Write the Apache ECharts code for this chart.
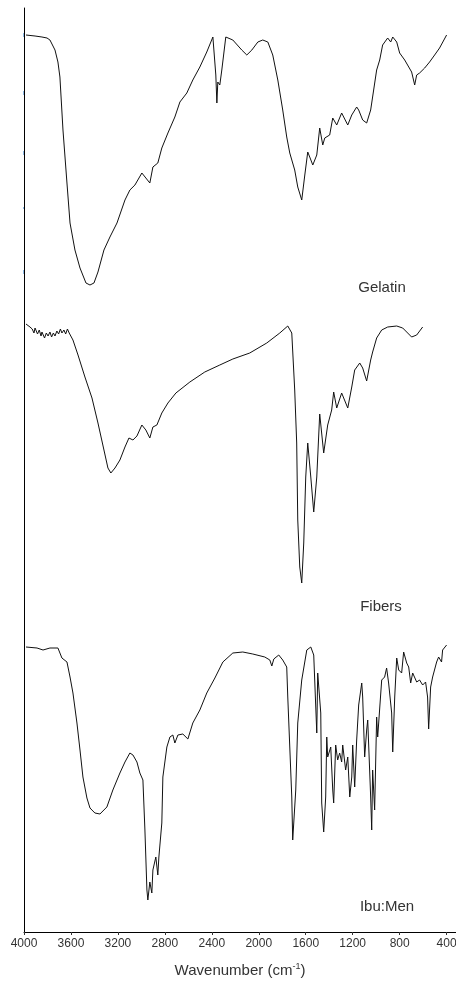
<!DOCTYPE html>
<html>
<head>
<meta charset="utf-8">
<script src="https://cdn.jsdelivr.net/npm/echarts@6/dist/echarts.min.js"></script>
<style>
html,body{margin:0;padding:0;background:#fff;}
#chart{width:456px;height:981px;}
</style>
</head>
<body>
<div id="chart"></div>
<script>
// X tick labels (wavenumber, cm-1)
const xTicks = [4000, 3600, 3200, 2800, 2400, 2000, 1600, 1200, 800, 400];

// Gelatin spectrum (wavenumber, offset transmittance a.u.)
const gelatinWn = [3983,3906,3847,3804,3779,3762,3736,3711,3694,3668,3634,3608,3566,3523,3472,3438,3404,3370,3319,3268,3208,3140,3098,3055,2996,2962,2928,2902,2860,2826,2774,2715,2672,2613,2562,2502,2443,2391,2366,2357,2349,2332,2315,2281,2221,2145,2102,2059,2008,1966,1923,1881,1838,1796,1762,1736,1694,1668,1634,1608,1583,1566,1540,1506,1481,1455,1438,1396,1370,1336,1294,1242,1208,1166,1149,1115,1081,1047,1030,996,970,945,902,876,859,825,800,757,698,672,655,630,587,545,502,460,400];
const gelatinT  = [897,896,895,894,892,890,882,870,855,802,749,709,682,664,649,647,649,660,682,695,709,732,742,747,759,754,749,765,769,784,799,815,830,839,852,865,880,895,857,829,850,847,862,895,892,882,877,882,890,892,890,877,852,822,795,779,762,745,732,757,780,775,767,777,804,787,794,797,814,807,819,807,817,825,822,812,809,822,824,862,872,887,894,890,895,890,879,872,860,847,857,859,864,870,877,884,897];

// Fibers spectrum
const fibersWn = [3983,3949,3930,3915,3906,3885,3870,3855,3847,3825,3810,3795,3779,3765,3750,3736,3720,3705,3690,3677,3660,3645,3630,3615,3608,3583,3540,3481,3421,3370,3319,3285,3260,3225,3183,3140,3106,3072,3038,2996,2962,2928,2902,2868,2826,2774,2706,2587,2460,2332,2221,2077,1932,1821,1753,1719,1694,1677,1668,1651,1634,1617,1600,1583,1557,1532,1506,1481,1447,1413,1379,1362,1336,1294,1242,1208,1183,1140,1115,1081,1047,1030,996,953,902,825,774,698,655,604];
const fibersT  = [608,605,603,599,604,598,602,596,600,594,599,596,600,595,599,596,601,598,603,599,602,598,603,599,599,592,577,555,534,509,482,464,459,464,472,485,494,492,496,507,502,494,505,507,519,529,539,550,560,567,573,579,589,599,606,599,542,489,412,365,349,389,455,489,455,420,455,518,479,507,522,540,524,539,524,545,562,569,564,551,572,580,594,602,605,606,604,595,597,605];

// Ibu:Men spectrum
const ibuMenWn = [3983,3889,3838,3779,3711,3677,3634,3608,3583,3549,3523,3498,3464,3438,3396,3353,3294,3243,3183,3140,3098,3072,3038,3013,2987,2970,2953,2945,2928,2911,2902,2877,2860,2851,2826,2817,2783,2757,2732,2715,2689,2647,2604,2562,2502,2443,2374,2306,2221,2136,2051,1949,1906,1889,1872,1830,1796,1762,1753,1736,1719,1711,1685,1668,1634,1591,1557,1532,1506,1498,1472,1464,1447,1430,1421,1413,1387,1370,1362,1345,1328,1311,1294,1285,1260,1242,1225,1208,1200,1183,1166,1149,1123,1115,1098,1081,1072,1047,1038,1030,1013,996,987,953,928,911,894,868,859,842,825,808,783,766,740,723,706,689,655,630,604,579,562,553,536,519,485,468,443,434,400];
const ibuMenT  = [285,284,282,284,284,274,270,255,239,209,182,155,134,124,119,118,125,142,159,170,179,177,170,159,152,102,42,32,50,39,62,75,57,75,109,155,185,195,197,189,197,198,193,209,222,239,254,270,279,280,278,275,272,266,273,277,272,265,235,185,135,92,142,209,252,282,285,277,199,259,219,129,100,135,195,175,185,142,129,187,172,179,170,187,162,175,135,155,187,145,192,227,249,235,175,202,212,135,102,162,122,215,195,252,255,264,249,219,180,235,274,262,259,280,269,265,249,259,250,252,247,250,235,203,245,255,270,275,270,282,287];

// Trace labels
const traceNames = ['Gelatin', 'Fibers', 'Ibu:Men'];

function zip(a, b) { return a.map((v, i) => [v, b[i]]); }

const chart = echarts.init(document.getElementById('chart'), null, {renderer: 'canvas'});
const lineStyle = {color: '#111', width: 1};
const mk = (name, wn, t) => ({
  name, type: 'line', data: zip(wn, t), showSymbol: false, symbol: 'none',
  lineStyle, silent: true, animation: false
});

chart.setOption({
  animation: false,
  backgroundColor: '#fff',
  grid: {left: 24, right: 0, top: 8, bottom: 49, containLabel: false, outerBoundsMode: 'none'},
  xAxis: {
    type: 'value', inverse: true, min: 320, max: 4000,
    axisLine: {show: true, lineStyle: {color: '#000', width: 1}},
    axisTick: {show: true, length: 3, customValues: xTicks, lineStyle: {color: '#333'}},
    axisLabel: {customValues: xTicks, color: '#333', fontSize: 12, fontFamily: 'Liberation Sans', margin: 6,
      formatter: v => String(v), hideOverlap: false},
    splitLine: {show: false},
    name: '{a|Wavenumber (cm}{s|-1}{a|)}',
    nameLocation: 'middle', nameGap: 30,
    nameTextStyle: {
      rich: {
        a: {fontSize: 15, color: '#333', fontFamily: 'Liberation Sans'},
        s: {fontSize: 9, color: '#333', fontFamily: 'Liberation Sans', padding: [0, 0, 9, 0]}
      }
    }
  },
  yAxis: {
    type: 'value', min: 0, max: 924,
    axisLine: {show: true, lineStyle: {color: '#000', width: 1}},
    axisTick: {show: false}, axisLabel: {show: false}, splitLine: {show: false}
  },
  series: [
    mk(traceNames[0], gelatinWn, gelatinT),
    mk(traceNames[1], fibersWn, fibersT),
    mk(traceNames[2], ibuMenWn, ibuMenT)
  ],
  graphic: [
    {type: 'text', x: 382, y: 288, style: {text: traceNames[0], fill: '#333', font: '15px "Liberation Sans"', align: 'center', verticalAlign: 'middle'}},
    {type: 'text', x: 381, y: 607, style: {text: traceNames[1], fill: '#333', font: '15px "Liberation Sans"', align: 'center', verticalAlign: 'middle'}},
    {type: 'text', x: 387, y: 907, style: {text: traceNames[2], fill: '#333', font: '15px "Liberation Sans"', align: 'center', verticalAlign: 'middle'}},
    {type: 'rect', shape: {x: 23, y: 33, width: 1, height: 4}, style: {fill: '#8fbbe6'}},
    {type: 'rect', shape: {x: 23, y: 91, width: 1, height: 4}, style: {fill: '#8fbbe6'}},
    {type: 'rect', shape: {x: 23, y: 151, width: 1, height: 4}, style: {fill: '#8fbbe6'}},
    {type: 'rect', shape: {x: 23, y: 207, width: 1, height: 2}, style: {fill: '#8fbbe6'}},
    {type: 'rect', shape: {x: 23, y: 270, width: 1, height: 4}, style: {fill: '#8fbbe6'}}
  ]
});
</script>
</body>
</html>
